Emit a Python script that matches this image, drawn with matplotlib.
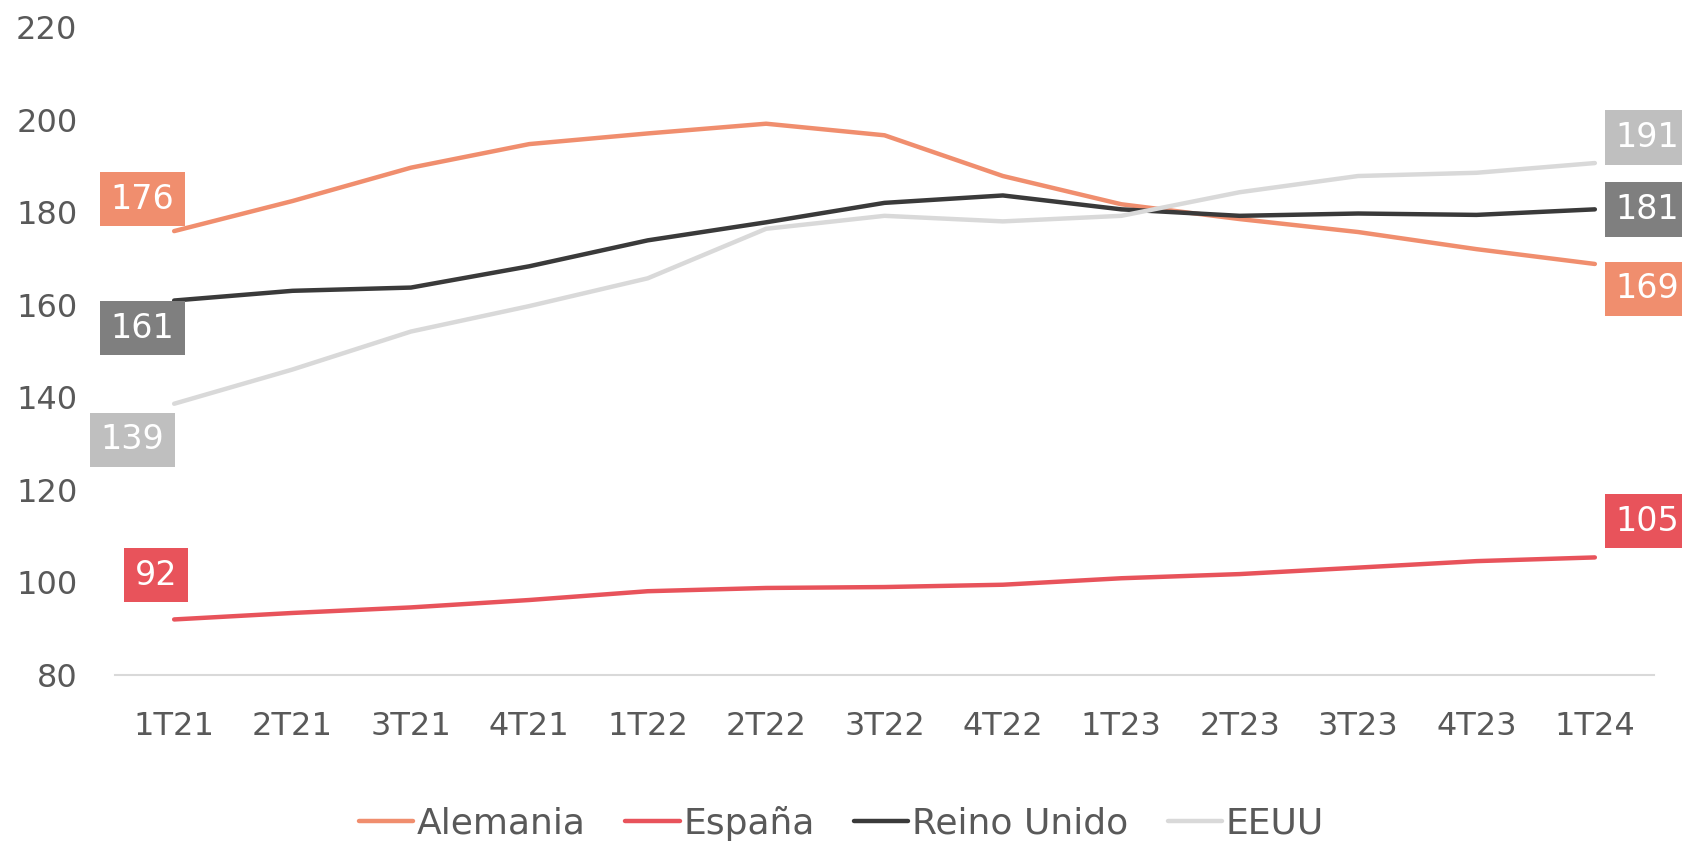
#!/usr/bin/env python3
import numpy as np
import matplotlib
matplotlib.use('Agg')
import matplotlib.pyplot as plt

plt.rcParams['font.family'] = ['DejaVu Sans']

# データ
quarters = ['1T21', '2T21', '3T21', '4T21', '1T22', '2T22', '3T22',
            '4T22', '1T23', '2T23', '3T23', '4T23', '1T24']
alemania = [175.9, 182.4, 189.6, 194.7, 197.0, 199.1, 196.6,
            187.8, 181.7, 178.5, 175.7, 172.0, 168.8]
espana = [92.0, 93.4, 94.6, 96.2, 98.1, 98.8, 99.0,
          99.5, 100.9, 101.8, 103.2, 104.6, 105.4]
reino_unido = [160.9, 163.0, 163.7, 168.3, 173.9, 177.8, 182.0,
               183.6, 180.6, 179.2, 179.7, 179.4, 180.6]
eeuu = [138.6, 146.0, 154.2, 159.7, 165.7, 176.4, 179.2,
        178.0, 179.2, 184.3, 187.8, 188.5, 190.6]

names = ['Alemania', 'España', 'Reino Unido', 'EEUU']
series = [alemania, espana, reino_unido, eeuu]
line_colors = ['#F08E6E', '#E8535B', '#3A3A3A', '#D9D9D9']
box_colors = ['#F08E6E', '#E8535B', '#7F7F7F', '#BFBFBF']
# ラベル位置 (offset points): 始点, 終点
start_off = [(-23, 23), (-13, 32), (-23, -20), (-30, -26)]
end_off = [(38, -18), (38, 26), (38, 0), (38, 18.5)]

text_color = '#595959'

fig = plt.figure(figsize=(16.83, 8.43), dpi=100)
ax = fig.add_axes([0.0683, 0.1993, 0.9145, 0.7687])

x = np.arange(len(quarters))
for name, vals, lc, bc, so, eo in zip(names, series, line_colors,
                                      box_colors, start_off, end_off):
    ax.plot(x, vals, color=lc, lw=3.2, label=name,
            solid_capstyle='round', zorder=3)
    for xi, off in ((0, so), (len(x) - 1, eo)):
        ax.annotate('%d' % round(vals[xi]), xy=(xi, vals[xi]),
                    xytext=off, textcoords='offset points',
                    ha='center', va='center', color='white', fontsize=24,
                    bbox=dict(boxstyle='square,pad=0.32', fc=bc, ec='none'),
                    annotation_clip=False, zorder=4)

ax.set_xlim(-0.5, len(x) - 0.5)
ax.set_ylim(80, 220)
ax.set_yticks(np.arange(80, 221, 20))
ax.set_xticks(x)
ax.set_xticklabels(quarters)

for s in ['top', 'right', 'left']:
    ax.spines[s].set_visible(False)
ax.spines['bottom'].set_color('#D9D9D9')
ax.spines['bottom'].set_linewidth(1.5)
ax.tick_params(axis='both', length=0, labelsize=23, colors=text_color)
ax.tick_params(axis='x', pad=26)
ax.tick_params(axis='y', pad=27)

fig.legend(loc='lower center', bbox_to_anchor=(0.5, -0.036), ncol=4,
           frameon=False, fontsize=26, handlelength=1.5, handletextpad=0.1,
           columnspacing=1.1, labelcolor=text_color)

plt.savefig('out.png', dpi=100)
plt.close()
